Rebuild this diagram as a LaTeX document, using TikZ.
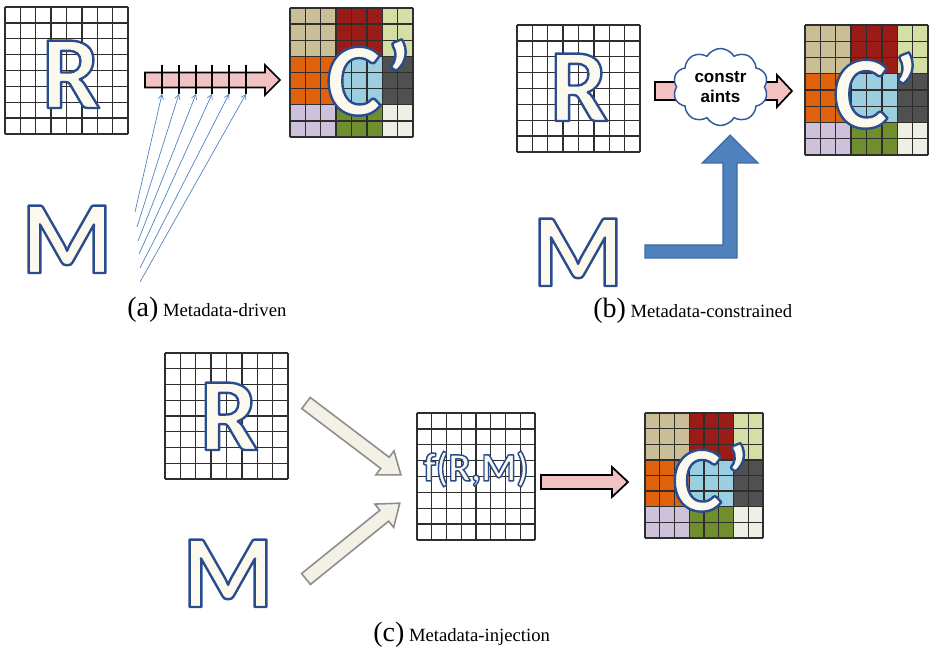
\documentclass[tikz,border=0pt]{standalone}
\usepackage{fontspec}
\setmainfont{Liberation Serif}
\newfontfamily\calfont{Carlito}
\newfontfamily\arialfont{Liberation Sans}
\usetikzlibrary{shapes.symbols,calc,arrows.meta}
\definecolor{ctan}{HTML}{C9BE95}
\definecolor{cred}{HTML}{9B1C16}
\definecolor{cgreenl}{HTML}{D3DFA4}
\definecolor{corange}{HTML}{E0620D}
\definecolor{cblue}{HTML}{99CFE0}
\definecolor{cgray}{HTML}{505050}
\definecolor{clav}{HTML}{CDC1DC}
\definecolor{colive}{HTML}{6F8E2E}
\definecolor{civory}{HTML}{F0EFE6}
\definecolor{gridc}{HTML}{2E2E2E}
\definecolor{letterblue}{HTML}{2B4C8C}
\definecolor{lettercream}{HTML}{FBF9EE}
\definecolor{pinkfill}{HTML}{F2C2C2}
\definecolor{creamfill}{HTML}{F3F1E6}
\definecolor{creamline}{HTML}{8E8E8E}
\definecolor{bluefill}{HTML}{4F81BD}
\definecolor{blueline}{HTML}{3B6AA3}
\definecolor{cloudline}{HTML}{2F5A9A}
\definecolor{metablue}{HTML}{4A7EC0}
% outlined letters: fill cream, stroke dark blue (PDF text render mode 2)
\newcommand\outl[2][1.8]{{\color{lettercream}\special{pdf:code 0.169 0.298 0.549 RG #1 w 1 j 2 Tr}#2\special{pdf:code 0 Tr}}}
\newcommand\mkgrid[5]{%
  \node[gridbox,minimum width={(#4-#2)*0.75pt},minimum height={(#5-#3)*0.75pt}] (#1) at ({(#2+#4)/2},{(#3+#5)/2}) {};
  \foreach \i in {0,...,8}{
    \draw[gridline] ({#2+\i*(#4-#2)/8},#3) -- ({#2+\i*(#4-#2)/8},#5);
    \draw[gridline] (#2,{#3+\i*(#5-#3)/8}) -- (#4,{#3+\i*(#5-#3)/8});
  }}
\newcommand\colgrid[5]{%
  \pgfmathsetmacro\gx{(#4-#2)/8}\pgfmathsetmacro\gy{(#5-#3)/8}
  \foreach \ca/\cb/\ra/\rb/\cc in {0/3/0/3/ctan,3/6/0/3/cred,6/8/0/3/cgreenl,0/3/3/6/corange,3/6/3/6/cblue,6/8/3/6/cgray,0/3/6/8/clav,3/6/6/8/colive,6/8/6/8/civory}{
    \fill[\cc] ({#2+\ca*\gx},{#3+\ra*\gy}) rectangle ({#2+\cb*\gx},{#3+\rb*\gy});
  }
  \mkgrid{#1}{#2}{#3}{#4}{#5}}
\newcommand\barrow[6]{%
  \path (#2); \pgfgetlastxy{\ax}{\ay}
  \path (#3); \pgfgetlastxy{\bx}{\by}
  \pgfmathsetmacro\bdx{\bx-\ax}\pgfmathsetmacro\bdy{\by-\ay}
  \pgfmathsetmacro\blen{veclen(\bdx,\bdy)/0.75}\pgfmathsetmacro\bang{atan2(\bdy,\bdx)}
  \begin{scope}[shift={(#2)},rotate=\bang,x=0.75pt,y=0.75pt]
    \draw[#1] (0,-#4) -- ({\blen-#6},-#4) -- ({\blen-#6},-#5) -- (\blen,0) -- ({\blen-#6},#5) -- ({\blen-#6},#4) -- (0,#4) -- cycle;
  \end{scope}}
\tikzset{
  gridbox/.style={inner sep=0pt,draw=none},
  gridline/.style={draw=gridc,line width=1pt},
  bigletter/.style={inner sep=0pt,anchor=base,font=\calfont\bfseries\fontsize{78}{78}\selectfont},
  midletter/.style={inner sep=0pt,anchor=base,font=\calfont\bfseries\fontsize{70}{70}\selectfont},
  pinkarrow/.style={fill=pinkfill,draw=black,line width=1.3pt,line join=miter},
  creamarrow/.style={fill=creamfill,draw=creamline,line width=1.2pt,line join=miter},
  tickline/.style={draw=black,line width=1.4pt},
  metaline/.style={draw=metablue,line width=0.5pt,-{Straight Barb[length=3.5pt,width=4pt]}},
  cloudnode/.style={cloud,cloud puffs=10,cloud puff arc=120,aspect=1.25,draw=cloudline,fill=white,line width=1.1pt,minimum width=95*0.75pt,minimum height=77*0.75pt,inner sep=0pt,align=center,font=\arialfont\bfseries\fontsize{12.75}{15}\selectfont},
  caption/.style={inner sep=0pt,anchor=base west},
}
\begin{document}
\begin{tikzpicture}[x=0.75pt,y=-0.75pt]
\useasboundingbox (0,0) rectangle (929,649);
% ---------------- (a)
\mkgrid{Ra}{5}{7}{128}{134}
\colgrid{Ca}{290}{8}{413}{137}
\node[bigletter] (Rla) at (71,108) {\outl{R}};
\node[bigletter] (Cla) at (369,115) {\outl{C’}};
\node[bigletter] (Mla) at (67,273) {\outl{M}};
\coordinate (pa1) at (145,80);
\coordinate (pa2) at (280,80);
\barrow{pinkarrow}{pa1}{pa2}{7.5}{15}{15}
\foreach \tx/\sx/\sy [count=\k] in {162/135/212,179/137/227,196/138/241,212/139/254,229/140/268,246/140/282}{
  \coordinate (tt\k) at (\tx,65);
  \coordinate (tk\k) at (\tx,94);
  \coordinate (sb\k) at (\sx,\sy);
  \draw[tickline] (tt\k) -- (tk\k);
  \draw[metaline] (sb\k) -- (tk\k);
}
\node[caption] (capa) at (127,316) {\fontsize{21}{21}\selectfont(a)\,\fontsize{14}{14}\selectfont Metadata-driven};
% ---------------- (b)
\mkgrid{Rb}{517}{25}{640}{152}
\colgrid{Cb}{805}{25}{928}{155}
\node[bigletter] (Rlb) at (579,121) {\outl{R}};
\node[bigletter] (Clb) at (876,128) {\outl{C’}};
\node[bigletter] (Mlb) at (578,286) {\outl{M}};
\coordinate (pb1) at (655,91);
\coordinate (pb2) at (792,91);
\barrow{pinkarrow}{pb1}{pb2}{9}{16}{15}
\node[cloudnode] (cons) at (720.5,87) {constr\\aints};
\coordinate (bs1) at (645,245);
\coordinate (bs2) at (645,258);
\coordinate (btip) at (730,135);
\draw[fill=bluefill,draw=blueline,line width=0.8pt,line join=miter]
  (bs1) -- (723,245) -- (723,163) -- (702,163) -- (btip) -- (758,163) -- (737,163) -- (737,258) -- (bs2) -- cycle;
\node[caption] (capb) at (593,317) {\fontsize{21}{21}\selectfont(b)\,\fontsize{14}{14}\selectfont Metadata-constrained};
% ---------------- (c)
\mkgrid{Rc}{165}{353}{288}{479}
\mkgrid{Fc}{417}{413}{535}{540}
\colgrid{Cc}{645}{413}{763}{538}
\node[bigletter] (Rlc) at (229,450) {\outl{R}};
\node[bigletter] (Mlc) at (228,607) {\outl{M}};
\node[inner sep=0pt,font=\calfont\bfseries\fontsize{30}{30}\selectfont] (flc) at (476,469) {\outl[1.1]{f(R,M)}};
\node[midletter] (Clc) at (711,511) {\outl{C’}};
\coordinate (ca1s) at (306,403);
\coordinate (ca1e) at (401,475);
\coordinate (ca2s) at (306,579);
\coordinate (ca2e) at (400,503);
\barrow{creamarrow}{ca1s}{ca1e}{7}{15}{20}
\barrow{creamarrow}{ca2s}{ca2e}{7}{15}{20}
\coordinate (pc1) at (541,482);
\coordinate (pc2) at (628,482);
\barrow{pinkarrow}{pc1}{pc2}{7}{15}{16}
\node[caption] (capc) at (373,641) {\fontsize{21}{21}\selectfont(c)\,\fontsize{14}{14}\selectfont Metadata-injection};
\end{tikzpicture}
\end{document}
